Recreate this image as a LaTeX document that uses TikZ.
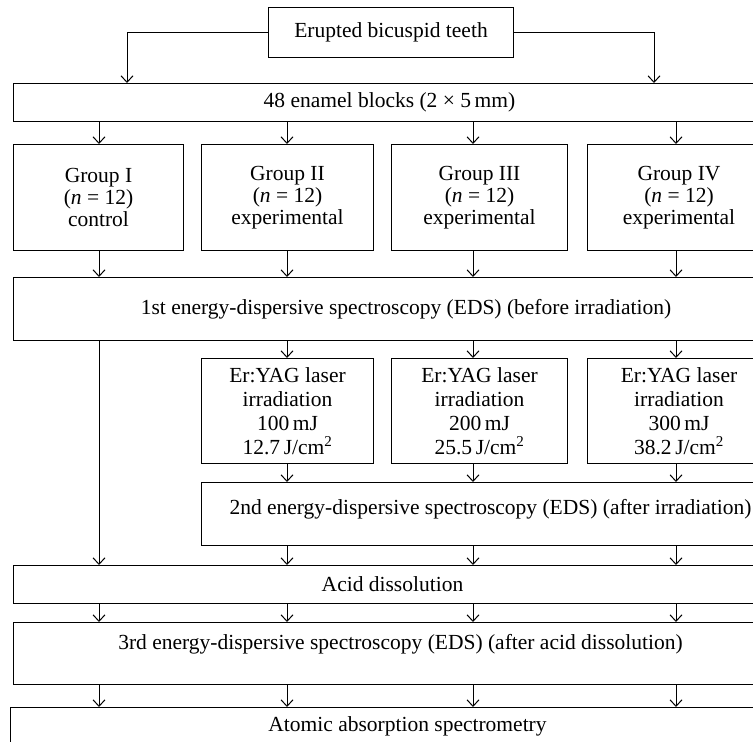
\documentclass[tikz,border=0pt]{standalone}
\usepackage{fontspec}
\setmainfont{Liberation Serif}
\usepackage{tikz}
\usetikzlibrary{shapes,arrows.meta,positioning,calc}

\begin{document}
\begin{tikzpicture}[
  x=1pt, y=-1pt,
  box/.style={rectangle, draw=black, line width=1pt, inner sep=0pt, align=center, anchor=north west, font=\fontsize{21.5}{22}\selectfont},
  laser/.style={box, minimum height=105pt, font=\fontsize{21.5}{24}\selectfont},
  arrow/.style={-{Straight Barb[length=6.5pt,width=12pt]}, line width=1pt}
]
  \useasboundingbox (0,0) rectangle (753,742);
  \clip (0,0) rectangle (753,742);
  % columns of the arrows
  \coordinate (c1) at (99,0);
  \coordinate (c2) at (287,0);
  \coordinate (c3) at (473,0);
  \coordinate (c4) at (676,0);
  \coordinate (inL) at (127,0);
  \coordinate (inR) at (654,0);
  % boxes
  \node[box, minimum width=245pt, minimum height=50pt] (teeth) at (268,7) {Erupted bicuspid teeth};
  \node[box, minimum width=752pt, minimum height=38pt] (blocks) at (13,83) {48 enamel blocks (2 × 5\,mm)};
  \node[box, minimum width=170pt, minimum height=106pt] (g1) at (13,144) {Group I\\(\textit{n} = 12)\\control};
  \node[box, minimum width=172pt, minimum height=106pt] (g2) at (201,144) {Group II\\(\textit{n} = 12)\\experimental};
  \node[box, minimum width=176pt, minimum height=106pt] (g3) at (391,144) {Group III\\(\textit{n} = 12)\\experimental};
  \node[box, minimum width=183pt, minimum height=106pt] (g4) at (587,144) {Group IV\\(\textit{n} = 12)\\experimental};
  \node[box, minimum width=785pt, minimum height=63pt] (eds1) at (13,277) {1st energy-dispersive spectroscopy (EDS) (before irradiation)};
  \node[laser, minimum width=172pt] (l1) at (201,358) {Er:YAG laser\\irradiation\\100\,mJ\\12.7\,J/cm\textsuperscript{2}};
  \node[laser, minimum width=176pt] (l2) at (391,358) {Er:YAG laser\\irradiation\\200\,mJ\\25.5\,J/cm\textsuperscript{2}};
  \node[laser, minimum width=183pt] (l3) at (587,358) {Er:YAG laser\\irradiation\\300\,mJ\\38.2\,J/cm\textsuperscript{2}};
  \node[box, minimum width=578pt, minimum height=63pt, text depth=15pt] (eds2) at (201,482) {2nd energy-dispersive spectroscopy (EDS) (after irradiation)};
  \node[box, minimum width=758pt, minimum height=38pt] (acid) at (13,565) {Acid dissolution};
  \node[box, minimum width=774pt, minimum height=62pt, text depth=24pt] (eds3) at (13,622) {3rd energy-dispersive spectroscopy (EDS) (after acid dissolution)};
  \node[box, minimum width=794pt, minimum height=38pt] (atomic) at (10,707) {Atomic absorption spectrometry};
  % connectors
  \draw[arrow] (teeth.west) -| (inL |- blocks.north);
  \draw[arrow] (teeth.east) -| (inR |- blocks.north);
  \draw[arrow] (c1 |- blocks.south) -- (c1 |- g1.north);
  \draw[arrow] (c2 |- blocks.south) -- (c2 |- g2.north);
  \draw[arrow] (c3 |- blocks.south) -- (c3 |- g3.north);
  \draw[arrow] (c4 |- blocks.south) -- (c4 |- g4.north);
  \draw[arrow] (c1 |- g1.south) -- (c1 |- eds1.north);
  \draw[arrow] (c2 |- g2.south) -- (c2 |- eds1.north);
  \draw[arrow] (c3 |- g3.south) -- (c3 |- eds1.north);
  \draw[arrow] (c4 |- g4.south) -- (c4 |- eds1.north);
  \draw[arrow] (c1 |- eds1.south) -- (c1 |- acid.north);
  \draw[arrow] (c2 |- eds1.south) -- (c2 |- l1.north);
  \draw[arrow] (c3 |- eds1.south) -- (c3 |- l2.north);
  \draw[arrow] (c4 |- eds1.south) -- (c4 |- l3.north);
  \draw[arrow] (c2 |- l1.south) -- (c2 |- eds2.north);
  \draw[arrow] (c3 |- l2.south) -- (c3 |- eds2.north);
  \draw[arrow] (c4 |- l3.south) -- (c4 |- eds2.north);
  \draw[arrow] (c2 |- eds2.south) -- (c2 |- acid.north);
  \draw[arrow] (c3 |- eds2.south) -- (c3 |- acid.north);
  \draw[arrow] (c4 |- eds2.south) -- (c4 |- acid.north);
  \draw[arrow] (c1 |- acid.south) -- (c1 |- eds3.north);
  \draw[arrow] (c2 |- acid.south) -- (c2 |- eds3.north);
  \draw[arrow] (c3 |- acid.south) -- (c3 |- eds3.north);
  \draw[arrow] (c4 |- acid.south) -- (c4 |- eds3.north);
  \draw[arrow] (c1 |- eds3.south) -- (c1 |- atomic.north);
  \draw[arrow] (c2 |- eds3.south) -- (c2 |- atomic.north);
  \draw[arrow] (c3 |- eds3.south) -- (c3 |- atomic.north);
  \draw[arrow] (c4 |- eds3.south) -- (c4 |- atomic.north);
\end{tikzpicture}
\end{document}
